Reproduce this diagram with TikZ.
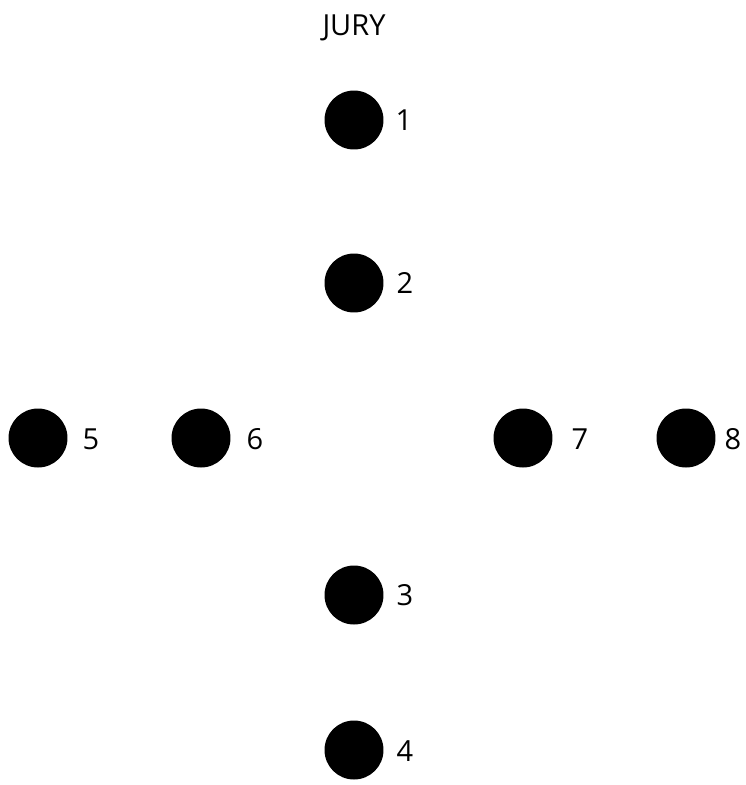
\documentclass[tikz,border=0pt]{standalone}
\usepackage{fontspec}
\setmainfont{Open Sans}
\usepackage{tikz}
\usetikzlibrary{positioning}

\begin{document}
\begin{tikzpicture}[x=0.02cm, y=-0.02cm,
				 dotnode/.style={circle, fill=black, inner sep=0pt, minimum size=1.18cm},
				 numnode/.style={inner sep=0pt, font=\fontsize{16.5}{20}\selectfont},
				 ]
				 \useasboundingbox (0,0) rectangle (746,785);
				 Title
				 \node[numnode]          		(jury_title)        	at (354, 28)   		{JURY};
				 Dots
				 \node[dotnode]          		(dot_1)        	at (354, 120)   		{};
				 \node[dotnode]          		(dot_2)        	at (354, 283)   		{};
				 \node[dotnode]          		(dot_3)        	at (354, 595)   		{};
				 \node[dotnode]          		(dot_4)        	at (354, 750)   		{};
				 \node[dotnode]          		(dot_5)        	at (38, 438)   		{};
				 \node[dotnode]          		(dot_6)        	at (201, 438)   		{};
				 \node[dotnode]          		(dot_7)        	at (523, 438)   		{};
				 \node[dotnode]          		(dot_8)        	at (686, 438)   		{};
				 Numbers
				 \node[numnode]          		(num_1)        	at (404, 120)   		{1};
				 \node[numnode]          		(num_2)        	at (405, 283)   		{2};
				 \node[numnode]          		(num_3)        	at (405, 595)   		{3};
				 \node[numnode]          		(num_4)        	at (405, 751)   		{4};
				 \node[numnode]          		(num_5)        	at (91, 439)   		{5};
				 \node[numnode]          		(num_6)        	at (255, 439)   		{6};
				 \node[numnode]          		(num_7)        	at (580, 439)   		{7};
				 \node[numnode]          		(num_8)        	at (733, 439)   		{8};
\end{tikzpicture}
\end{document}
